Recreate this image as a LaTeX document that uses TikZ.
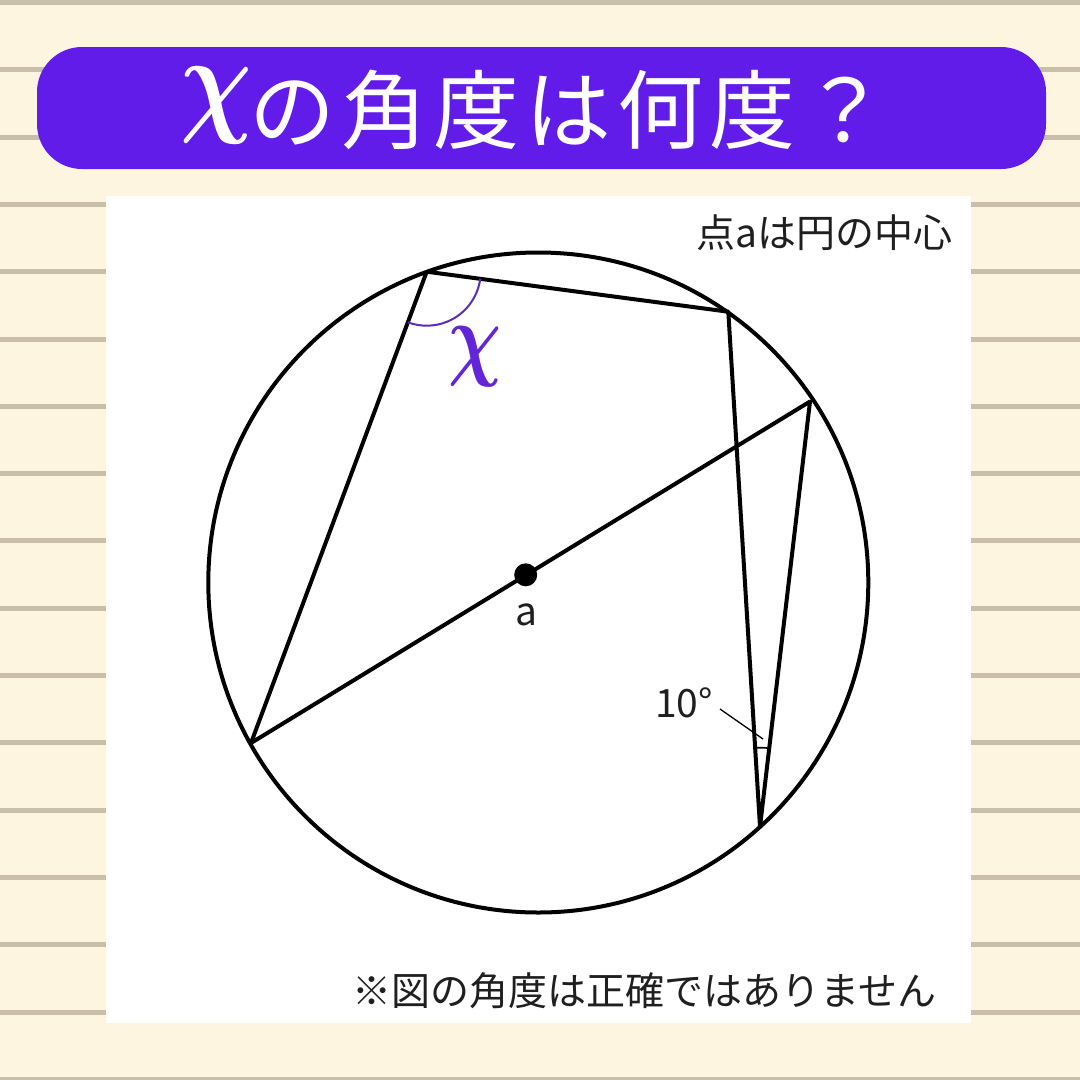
\documentclass[tikz,border=0pt]{standalone}
\usepackage{amsmath}
\usepackage{bm}
\usepackage{fontspec}
\newfontfamily\jp{Noto Sans CJK JP}
\usetikzlibrary{calc}
\definecolor{bgcream}{HTML}{FEF5E0}
\definecolor{stripecol}{HTML}{C8BEA9}
\definecolor{bannercol}{HTML}{611CE9}
\definecolor{chicol}{HTML}{6226D8}
\definecolor{arccol}{HTML}{5A2DB8}
\tikzset{
  geo/.style={line width=4pt, line join=round, line cap=round},
  smalltxt/.style={inner sep=0pt, font=\jp\fontsize{39}{42}\selectfont, text=black!88},
  titletxt/.style={inner sep=0pt, font=\jp\fontsize{86}{90}\selectfont\addfontfeature{LetterSpace=7}, text=white},
}
\begin{document}
\begin{tikzpicture}[x=1pt,y=-1pt]
\useasboundingbox (0,0) rectangle (1080,1080);
% background
\fill[bgcream] (0,0) rectangle (1080,1080);
\foreach \k in {0,...,16}{
  \fill[stripecol] (0,{2.5+67.3*\k-2.5}) rectangle (1080,{2.5+67.3*\k+2.5});
}
% banner
\fill[bannercol, rounded corners=45pt] (37,47) rectangle (1046,169);
\node[inner sep=0pt, text=white, xscale=10, yscale=12] (tchi) at (216,105) {$\bm{\chi}$};
\node[titletxt, anchor=base west] (title) at (249,142) {の角度は何度？};
% panel
\fill[white] (106,196) rectangle (971,1023);
% geometry
\coordinate (O) at (538.3,582.5);
\coordinate (A) at (426.7,271.7);
\coordinate (B) at (728.3,311.7);
\coordinate (C) at (810,401.5);
\coordinate (D) at (760,826.7);
\coordinate (E) at (251,743);
\draw[geo] (O) circle[radius=330];
\draw[geo] (E) -- (A) -- (B) -- (D) -- (C) -- cycle;
% angle x
\draw[arccol, line width=2pt] ($(A)+(7.55:54)$) arc[start angle=7.55, end angle=110.45, radius=54];
\node[inner sep=0pt, text=chicol, xscale=7.4, yscale=9.4] (xlab) at (475,357) {$\bm{\chi}$};
% 10 degree
\draw[line width=1.6pt] ($(D)+(266.5:79)$) arc[start angle=266.5, end angle=276.7, radius=79];
\coordinate (l1) at (720,709);
\coordinate (l2) at (763,739);
\draw[line width=1.3pt] (l1) -- (l2);
\node[smalltxt, anchor=base east] (ten) at (713,717) {10°};
% centre point
\node[circle, fill=black, inner sep=0pt, minimum size=23pt] (a) at (525.7,574.8) {};
\node[smalltxt, anchor=base] (alab) at (526,625) {a};
% texts
\node[smalltxt, anchor=base east] (note1) at (953,247) {点aは円の中心};
\node[smalltxt, anchor=base west] (note2) at (352,1005) {※図の角度は正確ではありません};
\end{tikzpicture}
\end{document}
